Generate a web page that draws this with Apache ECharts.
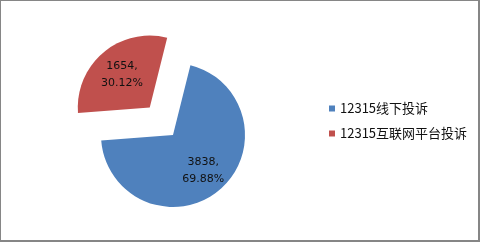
<!DOCTYPE html>
<html><head><meta charset="utf-8">
<script src="https://cdn.jsdelivr.net/npm/echarts@6/dist/echarts.min.js"></script>
<style>
html,body{margin:0;padding:0;background:#fff;}
#c{position:absolute;left:0;top:0;width:480px;height:242px;box-sizing:border-box;border:1px solid #868686;border-right-width:2px;border-bottom-width:2px;}
</style></head>
<body><div id="c"></div>
<script>
const categories = ['12315线下投诉', '12315互联网平台投诉'];
const values = [3838, 1654];
const percents = ['69.88%', '30.12%'];
const colors = ['#4F81BD', '#C0504D'];

const chart = echarts.init(document.getElementById('c'));
const center = [172, 134];
const explode = [false, true];
const baseData = categories.map((c, i) => ({
  name: c, value: values[i], selected: explode[i],
  itemStyle: { color: colors[i] }
}));
const labelData = categories.map((c, i) => ({
  name: c, value: values[i], selected: explode[i],
  itemStyle: { color: 'rgba(0,0,0,0)' },
  label: { formatter: values[i] + ',\n' + percents[i] }
}));
chart.setOption({
  animation: false,
  legend: {
    orient: 'vertical', left: 323, top: 96,
    itemWidth: 6, itemHeight: 6, itemGap: 12, icon: 'rect',
    data: categories,
    textStyle: { fontSize: 13, color: '#111', fontFamily: 'Noto Sans CJK SC' }
  },
  series: [{
    type: 'pie', center: center, radius: [0, 72],
    startAngle: 76, clockwise: true,
    selectedMode: 'multiple', selectedOffset: 36,
    label: { show: false }, labelLine: { show: false },
    silent: true, data: baseData
  }, {
    type: 'pie', center: center, radius: [0, 88],
    startAngle: 76, clockwise: true,
    selectedMode: 'multiple', selectedOffset: 32,
    legendHoverLink: false,
    label: { show: true, position: 'inside', fontSize: 11, lineHeight: 17, color: '#111', fontFamily: 'DejaVu Sans' },
    labelLine: { show: false },
    silent: true, data: labelData
  }]
});
</script></body></html>
